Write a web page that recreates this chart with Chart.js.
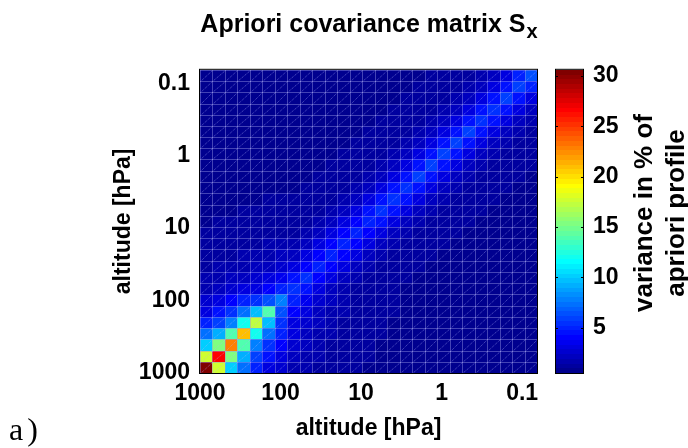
<!DOCTYPE html>
<html>
<head>
<meta charset="utf-8">
<script src="https://cdn.jsdelivr.net/npm/chart.js@4.4.0/dist/chart.umd.min.js"></script>
<style>
html, body { margin: 0; padding: 0; background: #fff; }
#c { display: block; }
</style>
</head>
<body>
<canvas id="c" width="688" height="448"></canvas>
<script>
// pressure level edges in hPa, from the ground (1000) to the top of the grid
var levelEdges = [1000, 699.8, 489.8, 342.8, 239.9, 167.9, 117.5, 82.2, 57.5, 40.3,
	28.2, 19.7, 13.8, 9.66, 6.76, 4.73, 3.31, 2.32, 1.62, 1.13,
	0.795, 0.556, 0.389, 0.272, 0.191, 0.133, 0.0934, 0.0654];
var pressureTicks = [1000, 100, 10, 1, 0.1];
var colorTicks = [5, 10, 15, 20, 25, 30];
var colorMin = 0.5, colorMax = 30.6;

// covariance rows (variance in % of apriori), row00 = 1000 hPa level
var row00 = [30.5,17.5,10.3,7.1,5.2,3.3,2.4,1.9,1.6,1.4,1.2,1.1,1.0,0.9,0.9,0.9,0.8,0.8,0.8,0.8,0.8,0.8,0.8,0.8,0.8,0.8,0.8];
var row01 = [17.5,26.5,15.5,9.0,6.0,4.3,2.9,2.1,1.7,1.5,1.3,1.2,1.0,1.0,0.9,0.9,0.9,0.8,0.8,0.8,0.8,0.8,0.8,0.8,0.8,0.8,0.8];
var row02 = [10.3,15.5,23.0,13.7,8.0,5.6,3.9,2.6,2.0,1.6,1.4,1.2,1.1,1.0,0.9,0.9,0.9,0.9,0.8,0.8,0.8,0.8,0.8,0.8,0.8,0.8,0.8];
var row03 = [7.1,9.0,13.7,21.0,11.8,7.1,5.2,2.9,2.3,1.8,1.5,1.3,1.1,1.0,1.0,0.9,0.9,0.9,0.8,0.8,0.8,0.8,0.8,0.8,0.8,0.8,0.8];
var row04 = [5.2,6.0,8.0,11.8,17.4,9.9,5.6,3.3,2.6,2.0,1.6,1.4,1.2,1.1,1.0,0.9,0.9,0.9,0.9,0.8,0.8,0.8,0.8,0.8,0.8,0.8,0.8];
var row05 = [3.3,4.3,5.6,7.1,9.9,13.7,6.5,3.8,3.0,2.3,1.8,1.5,1.3,1.1,1.0,1.0,0.9,0.9,0.9,0.8,0.8,0.8,0.8,0.8,0.8,0.8,0.8];
var row06 = [2.4,2.9,3.9,5.2,5.6,6.5,8.0,5.0,3.5,2.6,2.0,1.6,1.4,1.2,1.1,1.0,0.9,0.9,0.9,0.9,0.8,0.8,0.8,0.8,0.8,0.8,0.8];
var row07 = [1.9,2.1,2.6,2.9,3.3,3.8,5.0,5.5,4.3,3.0,2.2,1.7,1.4,1.2,1.1,1.0,0.9,0.9,0.9,0.8,0.8,0.8,0.8,0.8,0.8,0.8,0.8];
var row08 = [1.6,1.7,2.0,2.3,2.6,3.0,3.5,4.3,5.4,4.2,3.0,2.2,1.7,1.4,1.2,1.1,1.0,0.9,0.9,0.9,0.8,0.8,0.8,0.8,0.8,0.8,0.8];
var row09 = [1.4,1.5,1.6,1.8,2.0,2.3,2.6,3.0,4.2,5.2,4.1,2.9,2.2,1.7,1.4,1.2,1.1,1.0,0.9,0.9,0.9,0.8,0.8,0.8,0.8,0.8,0.8];
var row10 = [1.2,1.3,1.4,1.5,1.6,1.8,2.0,2.2,3.0,4.1,5.0,4.1,2.9,2.2,1.7,1.4,1.2,1.1,1.0,0.9,0.9,0.9,0.8,0.8,0.8,0.8,0.8];
var row11 = [1.1,1.2,1.2,1.3,1.4,1.5,1.6,1.7,2.2,2.9,4.1,5.0,4.2,3.0,2.2,1.7,1.4,1.2,1.1,1.0,0.9,0.9,0.9,0.8,0.8,0.8,0.8];
var row12 = [1.0,1.0,1.1,1.1,1.2,1.3,1.4,1.4,1.7,2.2,2.9,4.2,5.2,4.2,3.0,2.2,1.7,1.4,1.2,1.1,1.0,0.9,0.9,0.9,0.8,0.8,0.8];
var row13 = [0.9,1.0,1.0,1.0,1.1,1.1,1.2,1.2,1.4,1.7,2.2,3.0,4.2,5.2,4.3,3.0,2.2,1.7,1.4,1.2,1.1,1.0,0.9,0.9,0.9,0.8,0.8];
var row14 = [0.9,0.9,0.9,1.0,1.0,1.0,1.1,1.1,1.2,1.4,1.7,2.2,3.0,4.3,5.4,4.4,3.1,2.2,1.7,1.4,1.2,1.1,1.0,0.9,0.9,0.9,0.8];
var row15 = [0.9,0.9,0.9,0.9,0.9,1.0,1.0,1.0,1.1,1.2,1.4,1.7,2.2,3.0,4.4,5.6,4.5,3.1,2.3,1.7,1.4,1.2,1.1,1.0,0.9,0.9,0.9];
var row16 = [0.8,0.9,0.9,0.9,0.9,0.9,0.9,0.9,1.0,1.1,1.2,1.4,1.7,2.2,3.1,4.5,5.6,4.5,3.2,2.3,1.7,1.4,1.2,1.1,1.0,0.9,0.9];
var row17 = [0.8,0.8,0.9,0.9,0.9,0.9,0.9,0.9,0.9,1.0,1.1,1.2,1.4,1.7,2.2,3.1,4.5,5.8,4.6,3.2,2.3,1.7,1.4,1.2,1.1,1.0,0.9];
var row18 = [0.8,0.8,0.8,0.8,0.9,0.9,0.9,0.9,0.9,0.9,1.0,1.1,1.2,1.4,1.7,2.3,3.2,4.6,6.0,4.7,3.3,2.3,1.7,1.4,1.2,1.1,1.0];
var row19 = [0.8,0.8,0.8,0.8,0.8,0.8,0.9,0.8,0.9,0.9,0.9,1.0,1.1,1.2,1.4,1.7,2.3,3.2,4.7,6.0,4.7,3.3,2.3,1.7,1.4,1.2,1.1];
var row20 = [0.8,0.8,0.8,0.8,0.8,0.8,0.8,0.8,0.8,0.9,0.9,0.9,1.0,1.1,1.2,1.4,1.7,2.3,3.3,4.7,6.0,4.7,3.3,2.3,1.7,1.4,1.2];
var row21 = [0.8,0.8,0.8,0.8,0.8,0.8,0.8,0.8,0.8,0.8,0.9,0.9,0.9,1.0,1.1,1.2,1.4,1.7,2.3,3.3,4.7,5.8,4.6,3.2,2.3,1.7,1.4];
var row22 = [0.8,0.8,0.8,0.8,0.8,0.8,0.8,0.8,0.8,0.8,0.8,0.9,0.9,0.9,1.0,1.1,1.2,1.4,1.7,2.3,3.3,4.6,5.6,4.5,3.2,2.3,1.7];
var row23 = [0.8,0.8,0.8,0.8,0.8,0.8,0.8,0.8,0.8,0.8,0.8,0.8,0.9,0.9,0.9,1.0,1.1,1.2,1.4,1.7,2.3,3.2,4.5,5.6,4.5,3.2,2.3];
var row24 = [0.8,0.8,0.8,0.8,0.8,0.8,0.8,0.8,0.8,0.8,0.8,0.8,0.8,0.9,0.9,0.9,1.0,1.1,1.2,1.4,1.7,2.3,3.2,4.5,5.8,4.6,3.3];
var row25 = [0.8,0.8,0.8,0.8,0.8,0.8,0.8,0.8,0.8,0.8,0.8,0.8,0.8,0.8,0.9,0.9,0.9,1.0,1.1,1.2,1.4,1.7,2.3,3.2,4.6,6.0,4.8];
var row26 = [0.8,0.8,0.8,0.8,0.8,0.8,0.8,0.8,0.8,0.8,0.8,0.8,0.8,0.8,0.8,0.9,0.9,0.9,1.0,1.1,1.2,1.4,1.7,2.3,3.3,4.8,6.2];

var covMatrix = [row00, row01, row02, row03, row04, row05, row06, row07, row08, row09,
	row10, row11, row12, row13, row14, row15, row16, row17, row18, row19,
	row20, row21, row22, row23, row24, row25, row26];

var FONT = '"Liberation Sans", Arial, Helvetica, sans-serif';
Chart.defaults.font.family = FONT;
Chart.defaults.color = '#000';

// matlab jet(64): entry k (0..63) sits at t = (k+1)/64
function jet(v) {
	var t = (v - colorMin) / (colorMax - colorMin);
	var k = Math.max(0, Math.min(63, Math.floor(t * 64)));
	t = (k + 1) / 64;
	function c(x) { return Math.round(255 * Math.max(0, Math.min(1, x))); }
	return 'rgb(' + c(Math.min(4 * t - 1.5, -4 * t + 4.5)) + ',' +
		c(Math.min(4 * t - 0.5, -4 * t + 3.5)) + ',' +
		c(Math.min(4 * t + 0.5, -4 * t + 2.5)) + ')';
}

var heatmap = {
	id: 'heatmap',
	beforeDatasetsDraw: function(chart) {
		var ctx = chart.ctx, xs = chart.scales.x, ys = chart.scales.y, a = chart.chartArea;
		ctx.save();
		ctx.beginPath();
		ctx.rect(a.left, a.top, a.right - a.left, a.bottom - a.top);
		ctx.clip();
		for (var i = 0; i < covMatrix.length; i++) {
			var yb = Math.round(ys.getPixelForValue(levelEdges[i]));
			var yt = Math.round(ys.getPixelForValue(levelEdges[i + 1]));
			for (var j = 0; j < covMatrix[i].length; j++) {
				var xl = Math.round(xs.getPixelForValue(levelEdges[j]));
				var xr = Math.round(xs.getPixelForValue(levelEdges[j + 1]));
				ctx.fillStyle = jet(covMatrix[i][j]);
				ctx.fillRect(xl, yt, xr - xl, yb - yt);
			}
		}
		// mesh edges
		ctx.lineWidth = 1;
		ctx.strokeStyle = 'rgba(150,150,230,0.45)';
		ctx.beginPath();
		levelEdges.forEach(function(e) {
			var x = Math.round(xs.getPixelForValue(e)) + 0.5;
			var y = Math.round(ys.getPixelForValue(e)) + 0.5;
			ctx.moveTo(x, a.top); ctx.lineTo(x, a.bottom);
			ctx.moveTo(a.left, y); ctx.lineTo(a.right, y);
		});
		ctx.stroke();
		// triangle diagonals of the surface
		ctx.strokeStyle = 'rgba(180,180,255,0.5)';
		ctx.setLineDash([1, 1]);
		ctx.beginPath();
		for (var r = 0; r < covMatrix.length; r++) {
			var y0 = Math.round(ys.getPixelForValue(levelEdges[r]));
			var y1 = Math.round(ys.getPixelForValue(levelEdges[r + 1]));
			for (var q = 0; q < covMatrix.length; q++) {
				var x0 = Math.round(xs.getPixelForValue(levelEdges[q]));
				var x1 = Math.round(xs.getPixelForValue(levelEdges[q + 1]));
				ctx.moveTo(x0 + 0.5, y0 + 0.5); ctx.lineTo(x1 + 0.5, y1 + 0.5);
			}
		}
		ctx.stroke();
		ctx.restore();
	},
	afterDraw: function(chart) {
		var ctx = chart.ctx, a = chart.chartArea, cb = chart.scales.cb;
		ctx.save();
		// axes box
		ctx.strokeStyle = '#000';
		ctx.lineWidth = 1;
		ctx.strokeRect(a.left - 0.5, a.top - 0.5, a.right - a.left + 1, a.bottom - a.top + 1);

		// colorbar
		var cx0 = a.right + 18, cx1 = a.right + 47;
		var step = (colorMax - colorMin) / 64;
		for (var k = 0; k < 64; k++) {
			var v0 = colorMin + k * step, v1 = v0 + step;
			var p0 = Math.round(cb.getPixelForValue(v0)), p1 = Math.round(cb.getPixelForValue(v1));
			ctx.fillStyle = jet(v0 + step / 2);
			ctx.fillRect(cx0, p1, cx1 - cx0, p0 - p1);
		}
		ctx.strokeRect(cx0 + 0.5, a.top - 0.5, cx1 - cx0 - 1, a.bottom - a.top + 1);
		ctx.beginPath();
		colorTicks.forEach(function(v) {
			var y = Math.round(cb.getPixelForValue(v)) + 0.5;
			ctx.moveTo(cx0, y); ctx.lineTo(cx0 + 3, y);
			ctx.moveTo(cx1 - 3, y); ctx.lineTo(cx1, y);
		});
		ctx.stroke();

		// colorbar label
		ctx.fillStyle = '#000';
		ctx.font = 'bold 26px ' + FONT;
		ctx.textAlign = 'center';
		ctx.textBaseline = 'alphabetic';
		[['variance in % of', 652], ['apriori profile', 684]].forEach(function(l) {
			ctx.save();
			ctx.translate(l[1], 213);
			ctx.rotate(-Math.PI / 2);
			ctx.fillText(l[0], 0, 0);
			ctx.restore();
		});

		// title with subscript
		var main = 'Apriori covariance matrix S', sub = 'x';
		ctx.font = 'bold 25px ' + FONT;
		var w1 = ctx.measureText(main).width;
		ctx.font = 'bold 20px ' + FONT;
		var w2 = ctx.measureText(sub).width;
		var sx = (a.left + a.right) / 2 - (w1 + w2) / 2;
		ctx.textAlign = 'left';
		ctx.font = 'bold 25px ' + FONT;
		ctx.fillText(main, sx, 32);
		ctx.font = 'bold 20px ' + FONT;
		ctx.fillText(sub, sx + w1 + 1, 38);

		// panel letter
		ctx.font = '32px "Liberation Serif", "Times New Roman", serif';
		ctx.fillText('a', 9, 440);
		ctx.fillText(')', 9 + ctx.measureText('a').width + 4, 440);
		ctx.restore();
	}
};

var tickFont = {size: 23, weight: 'bold'};

var chart = new Chart(document.getElementById('c').getContext('2d'), {
	type: 'scatter',
	data: {datasets: [{data: []}]},
	plugins: [heatmap],
	options: {
		responsive: false,
		animation: false,
		layout: {padding: {left: 106, top: 63, right: 0, bottom: 2}},
		plugins: {legend: {display: false}, title: {display: false}, tooltip: {enabled: false}},
		scales: {
			x: {
				type: 'logarithmic', position: 'bottom', reverse: true,
				min: levelEdges[levelEdges.length - 1], max: levelEdges[0],
				grid: {display: false, drawTicks: false}, border: {display: false},
				afterBuildTicks: function(s) { s.ticks = pressureTicks.map(function(v) { return {value: v}; }); },
				afterFit: function(s) { s.height = 446 - 373; },
				ticks: {font: tickFont, padding: 7, maxRotation: 0, autoSkip: false,
					callback: function(v) { return String(v); }},
				title: {display: true, text: 'altitude [hPa]', font: tickFont}
			},
			y: {
				type: 'logarithmic', position: 'left', reverse: true,
				min: levelEdges[levelEdges.length - 1], max: levelEdges[0],
				grid: {display: false, drawTicks: false}, border: {display: false},
				afterBuildTicks: function(s) { s.ticks = pressureTicks.map(function(v) { return {value: v}; }); },
				afterFit: function(s) { s.width = 200 - 106; },
				ticks: {font: tickFont, padding: 10, autoSkip: false,
					callback: function(v) { return String(v); }},
				title: {display: true, text: 'altitude [hPa]', font: tickFont}
			},
			cb: {
				type: 'linear', position: 'right', min: colorMin, max: colorMax,
				grid: {display: false, drawTicks: false}, border: {display: false},
				afterBuildTicks: function(s) { s.ticks = colorTicks.map(function(v) { return {value: v}; }); },
				afterFit: function(s) { s.width = 688 - 537; },
				ticks: {font: tickFont, padding: 56, autoSkip: false}
			}
		}
	}
});
</script>
</body>
</html>
